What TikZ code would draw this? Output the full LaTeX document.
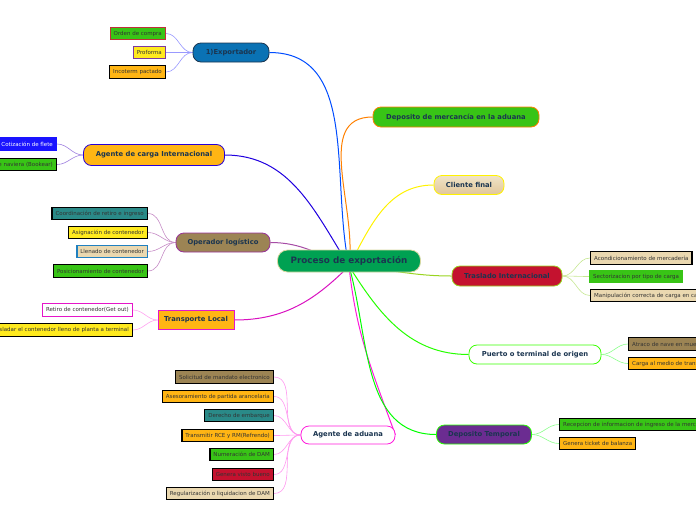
\documentclass[tikz,border=0pt]{standalone}
\usepackage{fontspec}
\setmainfont{DejaVu Sans}
\usetikzlibrary{positioning, backgrounds}

\definecolor{inkdark}{HTML}{1B3550}
\definecolor{rootgreen}{HTML}{00A152}
\definecolor{roottan}{HTML}{D8D8A0}
\definecolor{expblue}{HTML}{0A72B4}
\definecolor{leafgreen}{HTML}{38C416}
\definecolor{leafyellow}{HTML}{FFEA1E}
\definecolor{leaforange}{HTML}{FFB514}
\definecolor{leafteal}{HTML}{2A8A88}
\definecolor{leaftan}{HTML}{EAD8B0}
\definecolor{leafbrown}{HTML}{9C8454}
\definecolor{leafred}{HTML}{C4122F}
\definecolor{leafblue}{HTML}{1A14FF}
\definecolor{deppurple}{HTML}{6B2C91}
\definecolor{bordred}{HTML}{C0303A}
\definecolor{bordpurple}{HTML}{7A3AA0}
\definecolor{bordblue}{HTML}{2080C0}
\definecolor{magentaline}{HTML}{FF1ADC}

\begin{document}
\begin{tikzpicture}[
    x=1pt, y=-1pt,
    topic/.style={draw, rounded corners=8pt, line width=0.8pt, minimum height=19pt, inner xsep=6pt,
        font=\fontsize{6.8}{8}\selectfont\bfseries, text=inkdark},
    leaf/.style={draw, line width=1.4pt, minimum height=12.5pt, inner xsep=3.5pt, inner ysep=0pt,
        font=\fontsize{5.5}{6}\selectfont, text=black!80},
    branch/.style={line width=1pt},
    twig/.style={line width=0.6pt}
]

\useasboundingbox (0,0) rectangle (696,520);

% Central topic
\node[topic, fill=rootgreen, draw=roottan, minimum width=143pt, minimum height=22pt,
    rounded corners=10pt, font=\fontsize{8.8}{10}\selectfont\bfseries] (root) at (349,261) {Proceso de exportación};
\coordinate (hub) at (349,266);

% Left side topics
\node[topic, fill=expblue, draw=inkdark, minimum width=76pt] (exp) at (231,52.5) {1)Exportador};
\node[topic, fill=leaforange, draw=blue!70!violet, minimum width=141pt, minimum height=21pt] (carga) at (154,155) {Agente de carga Internacional};
\node[topic, fill=leafbrown, draw=violet!80, minimum width=94pt] (oper) at (223,242.5) {Operador logístico};
\node[topic, rounded corners=0pt, fill=leaforange, draw=magentaline!80!violet, minimum width=73pt] (transp) at (196,320) {Transporte Local};
\node[topic, fill=white, draw=magentaline, minimum width=94pt, minimum height=18pt] (aduana) at (348,435) {Agente de aduana};

% Right side topics
\node[topic, fill=leafgreen, draw=orange, minimum width=166pt, minimum height=20pt] (depmerc) at (456,117) {Deposito de mercancía en la aduana};
\node[topic, top color=leaftan!70!white, bottom color=leaftan!80!brown, draw=yellow, minimum width=70pt] (cliente) at (469,185) {Cliente final};
\node[topic, fill=leafred, draw=yellow!60!green, minimum width=110pt, minimum height=20pt] (traslado) at (507,276) {Traslado Internacional};
\node[topic, fill=white, draw=green!70!lime, minimum width=132pt] (puerto) at (535,354.5) {Puerto o terminal de origen};
\node[topic, fill=deppurple, draw=green!80!lime, minimum width=95pt] (deptemp) at (484,434.5) {Deposito Temporal};

% Leaves of 1)Exportador
\node[leaf, anchor=east, fill=leafgreen, draw=bordred] (e1) at (166,33.5) {Orden de compra};
\node[leaf, anchor=east, fill=leafyellow, draw=bordpurple] (e2) at (166,52.5) {Proforma};
\node[leaf, anchor=east, fill=leaforange, draw=black] (e3) at (166,72) {Incoterm pactado};

% Leaves of Agente de carga
\node[leaf, anchor=east, fill=leafblue, draw=leafblue, text=white] (c1) at (57,144) {Cotización de flete};
\node[leaf, anchor=east, fill=leafgreen, draw=black] (c2) at (57,164.5) {Reserva de naviera (Bookear)};

% Leaves of Operador logistico
\node[leaf, anchor=east, fill=leafteal, draw=black] (o1) at (148,213.5) {Coordinación de retiro e ingreso};
\node[leaf, anchor=east, fill=leafyellow, draw=black] (o2) at (148,232.5) {Asignación de contenedor};
\node[leaf, anchor=east, fill=leaftan, draw=bordblue] (o3) at (148,251.5) {Llenado de contenedor};
\node[leaf, anchor=east, fill=leafgreen, draw=black] (o4) at (148,271) {Posicionamiento de contenedor};

% Leaves of Transporte Local
\node[leaf, anchor=east, fill=white, draw=magentaline!80!violet] (t1) at (133,310) {Retiro de contenedor(Get out)};
\node[leaf, anchor=east, fill=leafyellow, draw=black] (t2) at (133,330) {Trasladar el contenedor lleno de planta a terminal};

% Leaves of Agente de aduana
\node[leaf, anchor=east, fill=leafbrown, draw=black] (a1) at (274,377) {Solicitud de mandato electronico};
\node[leaf, anchor=east, fill=leaforange, draw=black] (a2) at (274,396.5) {Asesoramiento de partida arancelaria};
\node[leaf, anchor=east, fill=leafteal, draw=black] (a3) at (274,415.5) {Derecho de embarque};
\node[leaf, anchor=east, fill=leaforange, draw=black] (a4) at (274,435.5) {Transmitir RCE y RM(Refrendo)};
\node[leaf, anchor=east, fill=leafgreen, draw=black] (a5) at (274,454.5) {Numeración de DAM};
\node[leaf, anchor=east, fill=leafred, draw=black] (a6) at (274,474.5) {Genera visto bueno};
\node[leaf, anchor=east, fill=leaftan, draw=black] (a7) at (274,493.5) {Regularización o liquidacion de DAM};

% Leaves of Traslado Internacional
\node[leaf, anchor=west, fill=leaftan, draw=black] (r1) at (590,258) {Acondicionamiento de mercadería};
\node[leaf, anchor=west, fill=leafgreen, draw=leafgreen] (r2) at (589,276.5) {Sectorizacion por tipo de carga};
\node[leaf, anchor=west, fill=leaftan, draw=black] (r3) at (590,295.5) {Manipulación correcta de carga en camión};

% Leaves of Puerto o terminal
\node[leaf, anchor=west, fill=leafbrown, draw=black] (p1) at (628,344) {Atraco de nave en muelle};
\node[leaf, anchor=west, fill=leaforange, draw=black] (p2) at (628,363.5) {Carga al medio de transporte};

% Leaves of Deposito Temporal
\node[leaf, anchor=west, fill=leafgreen, draw=black] (d1) at (559,424.5) {Recepcion de informacion de ingreso de la mercancía};
\node[leaf, anchor=west, fill=leaforange, draw=black] (d2) at (559,443.5) {Genera ticket de balanza};

% Connectors
\begin{scope}[on background layer]
\draw[branch, blue!70!cyan] (hub) to[out=102, in=0] (exp.east);
\draw[branch, blue!75!violet] (hub) to[out=122, in=0] (carga.east);
\draw[branch, violet!70] (hub) to[out=160, in=0] (oper.east);
\draw[branch, magentaline!70!violet] (hub) to[out=225, in=0] (transp.east);
\draw[branch, magentaline] (hub) to[out=-84, in=110] (aduana.east);
\draw[branch, orange] (hub) to[out=82, in=180] (depmerc.west);
\draw[branch, yellow] (hub) to[out=62, in=180] (cliente.west);
\draw[branch, yellow!60!green] (hub) to[out=-4, in=180] (traslado.west);
\draw[branch, green!80!lime] (hub) to[out=-58, in=180] (puerto.west);
\draw[branch, green] (hub) to[out=-74, in=180] (deptemp.west);

\foreach \l in {e1,e2,e3}
    \draw[twig, blue!40] (exp.west) to[out=180, in=0] (\l.east);
\foreach \l in {c1,c2}
    \draw[twig, blue!50!violet!50] (carga.west) to[out=180, in=0] (\l.east);
\foreach \l in {o1,o2,o3,o4}
    \draw[twig, violet!45] (oper.west) to[out=180, in=0] (\l.east);
\foreach \l in {t1,t2}
    \draw[twig, magentaline!40] (transp.west) to[out=180, in=0] (\l.east);
\foreach \l in {a1,a2,a3,a4,a5,a6,a7}
    \draw[twig, magentaline!45] (aduana.west) to[out=180, in=0] (\l.east);
\foreach \l in {r1,r2,r3}
    \draw[twig, yellow!50!green!45] (traslado.east) to[out=0, in=180] (\l.west);
\foreach \l in {p1,p2}
    \draw[twig, green!45] (puerto.east) to[out=0, in=180] (\l.west);
\foreach \l in {d1,d2}
    \draw[twig, green!45] (deptemp.east) to[out=0, in=180] (\l.west);
\end{scope}

\end{tikzpicture}
\end{document}
